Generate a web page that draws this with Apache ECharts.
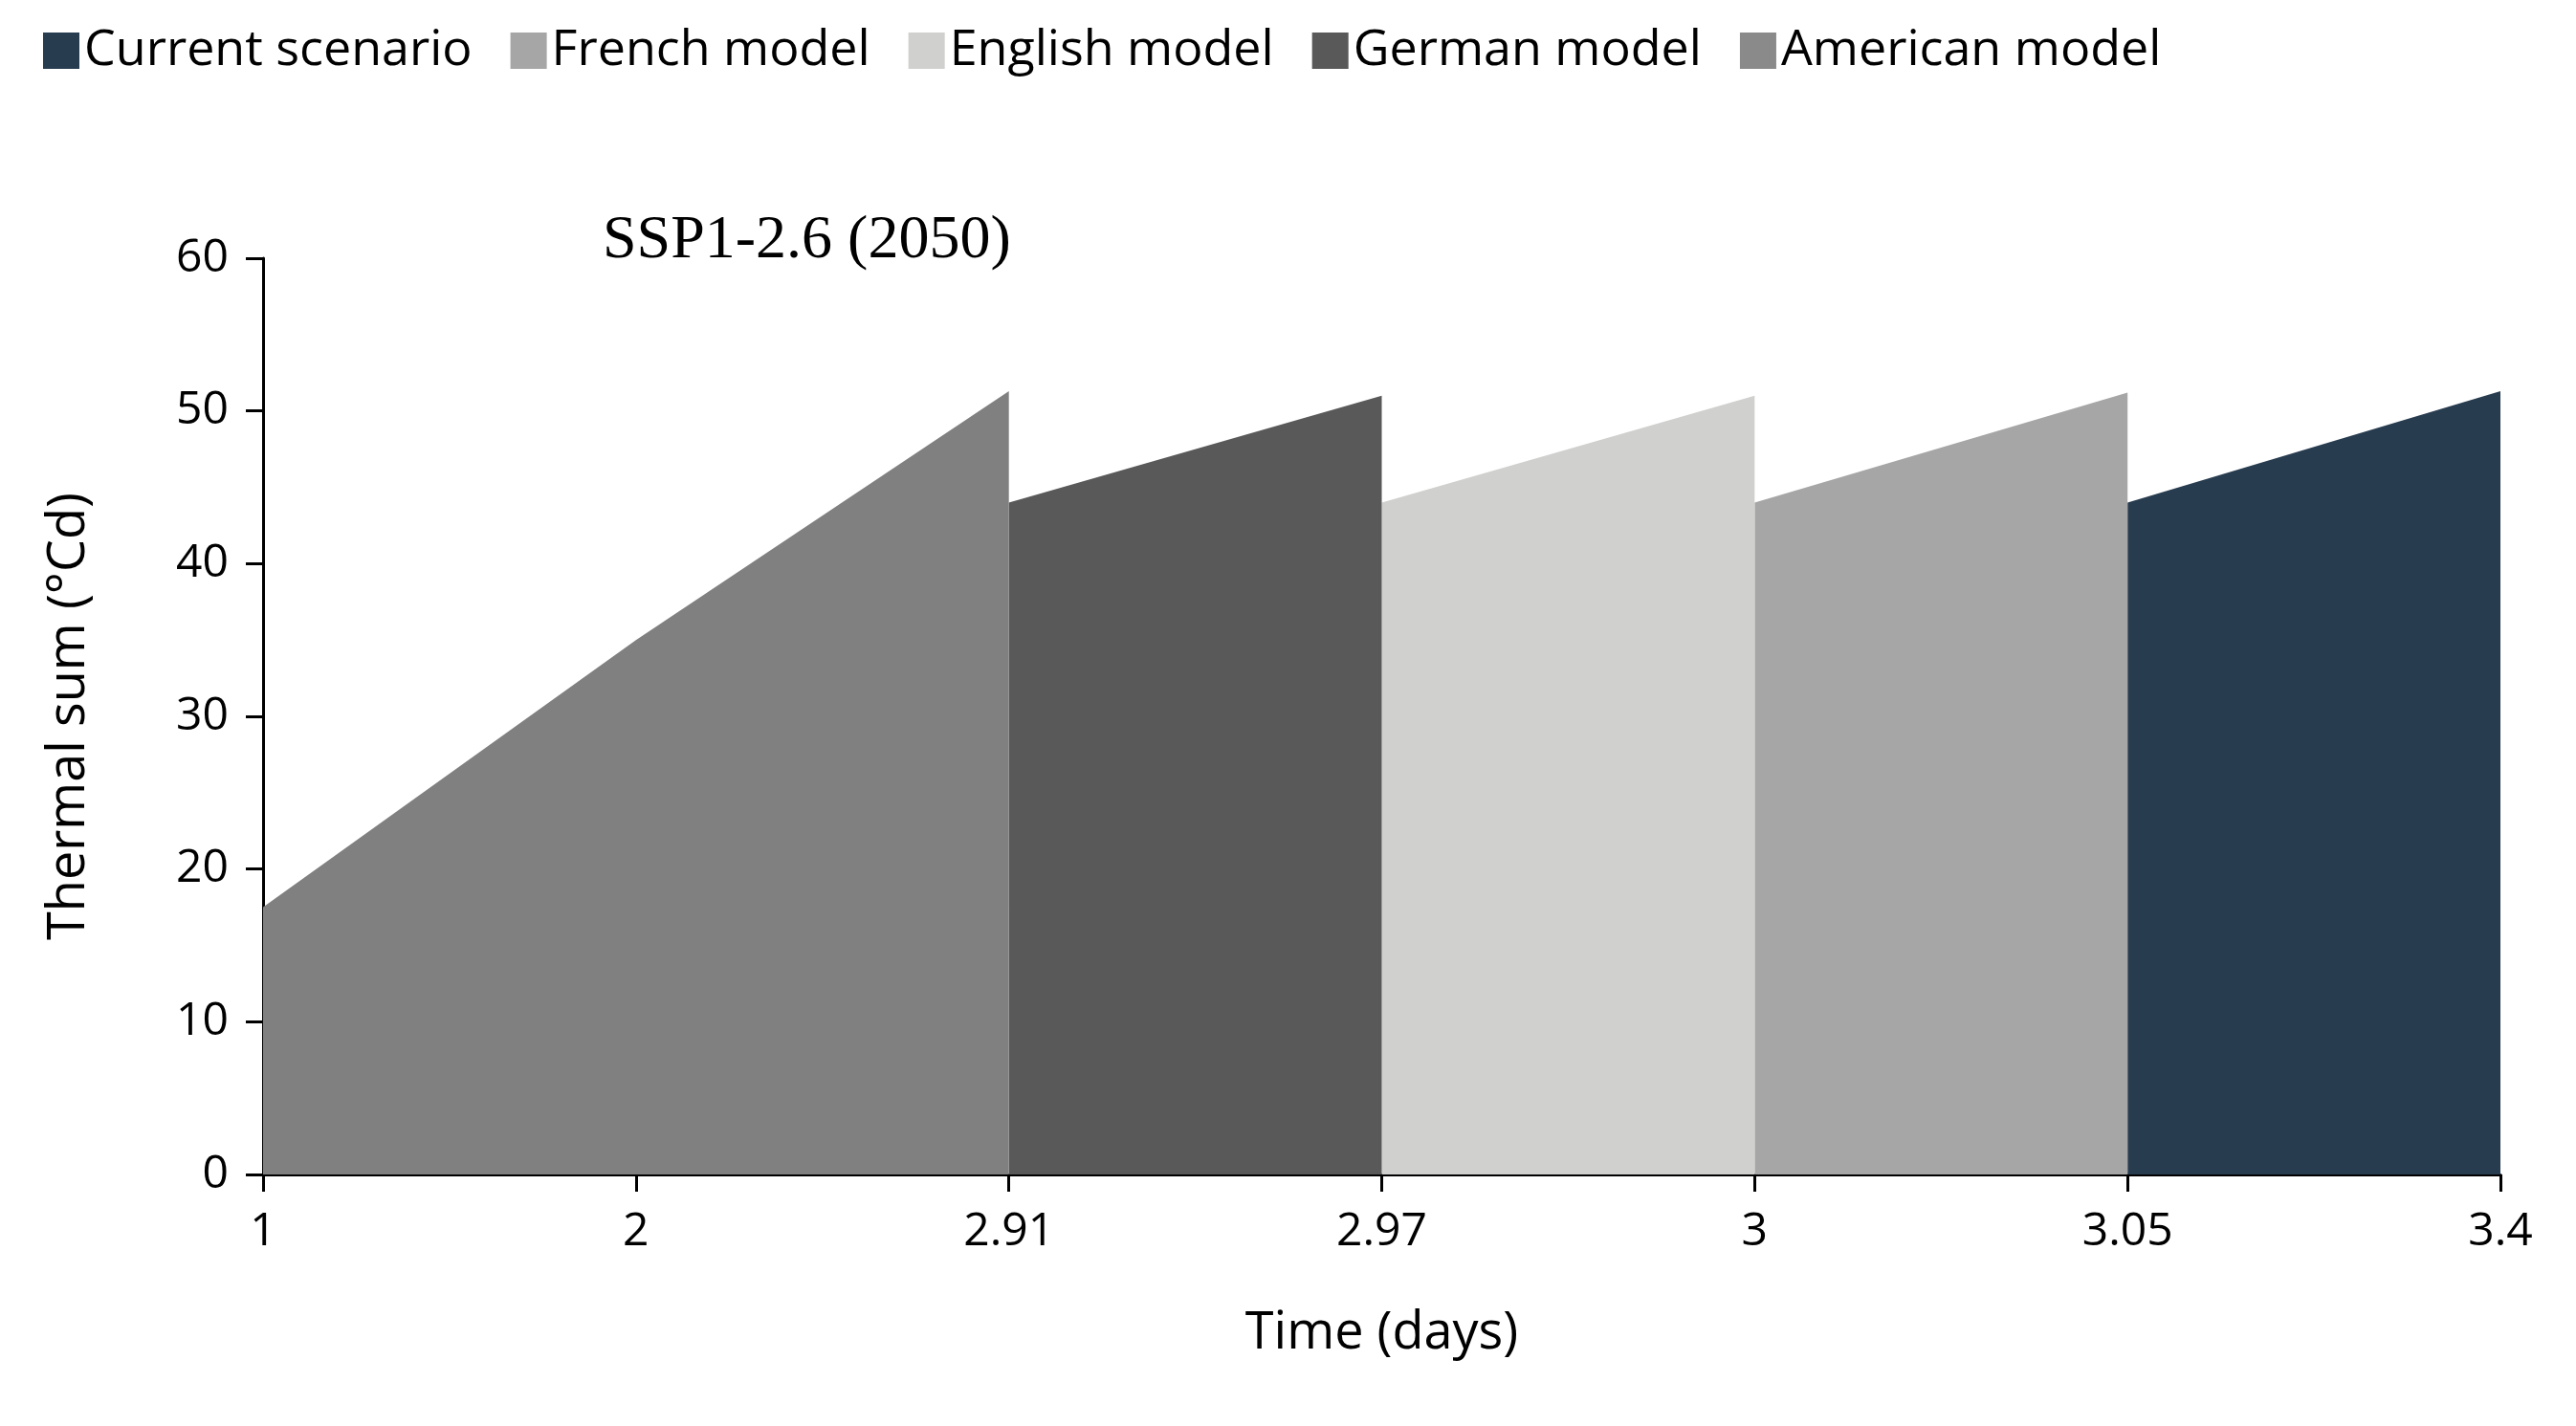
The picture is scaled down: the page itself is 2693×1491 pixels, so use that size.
<!DOCTYPE html>
<html><head><meta charset="utf-8">
<script src="https://cdn.jsdelivr.net/npm/echarts@6/dist/echarts.min.js"></script>
<style>html,body{margin:0;padding:0;background:#fff}#c{width:2693px;height:1491px}</style>
</head><body><div id="c"></div>
<script>
var tickLabels = ['1', '2', '2.91', '2.97', '3', '3.05', '3.4'];
var seriesNames = ['Current scenario', 'French model', 'English model', 'German model', 'American model'];
var seriesColors = ['#283c50', '#a6a6a6', '#d0d0ce', '#595959', '#8a8a8a'];
// [tick index, thermal sum]
var currentData = [[5, 44], [6, 51.3]];
var frenchData = [[4, 44], [5, 51.2]];
var englishData = [[3, 44], [4, 51]];
var germanData = [[2, 44], [3, 51]];
var americanData = [[0, 17.5], [1, 35], [2, 51.3]];
var allData = [currentData, frenchData, englishData, germanData, americanData];
var fills = ['#283c50', '#a6a6a6', '#d0d0ce', '#595959', '#808080'];

var chart = echarts.init(document.getElementById('c'));
var series = seriesNames.map(function (n, i) {
    return {
        name: n, type: 'line', data: allData[i], symbol: 'none',
        lineStyle: {width: 0}, itemStyle: {color: seriesColors[i]},
        areaStyle: {color: fills[i], opacity: 1}
    };
});
chart.setOption({
    animation: false,
    textStyle: {fontFamily: 'Open Sans'},
    title: {text: 'SSP1-2.6 (2050)', left: 625, top: 215,
        textStyle: {fontFamily: 'Liberation Serif', fontWeight: 'normal', fontSize: 64, color: '#000'}},
    legend: {top: 22, left: 40, itemWidth: 38, itemHeight: 38, itemGap: 40,
        icon: 'rect', textStyle: {fontSize: 52, color: '#000'}, data: seriesNames},
    grid: {left: 275, right: 79, top: 270, bottom: 263},
    xAxis: {
        type: 'value', min: 0, max: 6, interval: 1,
        name: 'Time (days)', nameLocation: 'middle', nameGap: 140,
        nameTextStyle: {fontSize: 54, color: '#000'},
        axisLine: {lineStyle: {color: '#000', width: 3}},
        axisTick: {show: true, length: 18, lineStyle: {color: '#000', width: 3}},
        axisLabel: {fontSize: 48, color: '#000', margin: 36, formatter: function (v) { return tickLabels[v]; }},
        splitLine: {show: false}
    },
    yAxis: {
        type: 'value', min: 0, max: 60, interval: 10,
        name: 'Thermal sum (°Cd)', nameLocation: 'middle', nameGap: 175,
        nameTextStyle: {fontSize: 54, color: '#000'},
        axisLine: {show: true, lineStyle: {color: '#000', width: 3}},
        axisTick: {show: true, length: 18, lineStyle: {color: '#000', width: 3}},
        axisLabel: {fontSize: 48, color: '#000', margin: 36},
        splitLine: {show: false}
    },
    series: series
});
</script></body></html>
